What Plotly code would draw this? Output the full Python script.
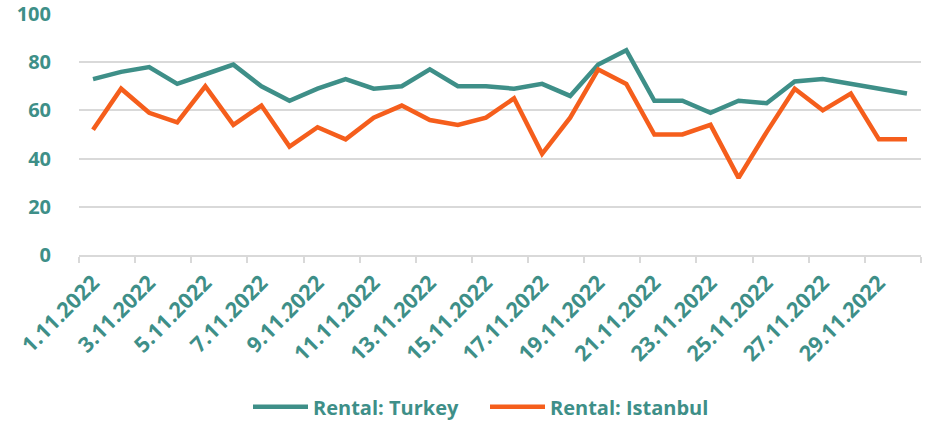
import plotly.graph_objects as go

dates = [f"{d}.11.2022" for d in range(1, 31)]
turkey = [73, 76, 78, 71, 75, 79, 70, 64, 69, 73, 69, 70, 77, 70, 70, 69, 71, 66, 79, 85,
          64, 64, 59, 64, 63, 72, 73, 71, 69, 67]
istanbul = [52, 69, 59, 55, 70, 54, 62, 45, 53, 48, 57, 62, 56, 54, 57, 65, 42, 57, 77, 71,
            50, 50, 54, 32, 51, 69, 60, 67, 48, 48]

TEAL = "#3E8F88"
ORANGE = "#F55E1C"
FONT = "Open Sans"

fig = go.Figure()
fig.add_trace(go.Scatter(x=dates, y=turkey, mode="lines", name="Rental: Turkey",
                         line=dict(color=TEAL, width=4.5), legend="legend"))
fig.add_trace(go.Scatter(x=dates, y=istanbul, mode="lines", name="Rental: Istanbul",
                         line=dict(color=ORANGE, width=4.5), legend="legend2"))

legfont = dict(family=FONT, size=20, color=TEAL, weight="bold")
fig.update_layout(
    width=928, height=422,
    margin=dict(l=79, r=7, t=14, b=167, autoexpand=False),
    paper_bgcolor="white", plot_bgcolor="white",
    font=dict(family=FONT, color=TEAL, size=20),
    showlegend=True,
    legend=dict(orientation="h", xref="container", x=248 / 928, xanchor="left",
                y=-0.63, yanchor="middle", font=legfont, itemwidth=55),
    legend2=dict(orientation="h", xref="container", x=485 / 928, xanchor="left",
                 y=-0.63, yanchor="middle", font=legfont, itemwidth=55),
)
fig.update_xaxes(
    type="category", tickson="boundaries", dtick=2, tickangle=-45,
    showgrid=False, showline=True, linecolor="#d9d9d9", linewidth=1.5,
    ticks="outside", ticklen=6, tickcolor="#d9d9d9", tickwidth=1.5,
    ticklabelstandoff=5, automargin=False,
    tickfont=dict(family=FONT, size=21.5, color=TEAL, weight="bold"),
    range=[-0.5, 29.5],
)
fig.update_yaxes(
    range=[0, 100], dtick=20, showgrid=True, gridcolor="#d9d9d9", gridwidth=1.5,
    zeroline=False, showline=False, ticks="", ticklabelstandoff=27, automargin=False,
    tickfont=dict(family=FONT, size=20, color=TEAL, weight="bold"),
)

fig.write_html("out.html", config={"displayModeBar": False},
               post_script="document.body.style.margin='0';document.body.style.overflow='hidden';")
